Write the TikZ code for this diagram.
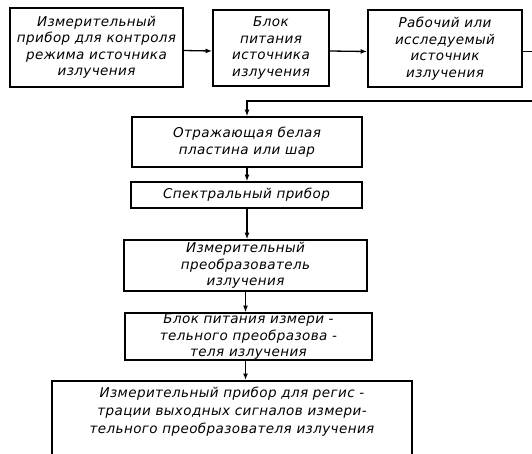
\documentclass[tikz,border=0pt]{standalone}
\usepackage{fontspec}
\setmainfont{DejaVu Sans}
\newfontfamily\lett{DejaVu Sans}[LetterSpace=3]
\usetikzlibrary{arrows.meta}
\tikzset{
  txt/.style={inner sep=0pt, align=center,
    font=\lett\itshape\fontsize{13.5}{16.5}\selectfont},
  blk/.style={txt, draw, line width=1.7pt, rectangle},
  conn/.style={line width=1.3pt},
  arr/.style={conn, -{Latex[length=6.5pt,width=5pt]}}
}
\begin{document}
\begin{tikzpicture}[x=1pt,y=-1pt]
\useasboundingbox (0,0) rectangle (532,453);
\clip (0,0) rectangle (532,453);
\node[blk, minimum width=173pt, minimum height=79pt] (b1) at (96.5,47.5)
  {Измерительный\\прибор для контроля\\режима источника\\излучения};
\node[blk, minimum width=116pt, minimum height=76pt] (b2) at (271,48)
  {Блок\\питания\\источника\\излучения};
\node[blk, minimum width=154pt, minimum height=77pt] (b3) at (445,48.5)
  {Рабочий или\\исследуемый\\источник\\излучения};
\node[blk, minimum width=230pt, minimum height=50pt] (b4) at (247,142)
  {Отражающая белая\\пластина или шар};
\node[blk, minimum width=231pt, minimum height=26pt] (b5) at (246.5,195)
  {Спектральный прибор};
\node[blk, minimum width=243pt, minimum height=51pt] (b6) at (245.5,265.5)
  {Измерительный\\преобразователь\\излучения};
\node[blk, minimum width=247pt, minimum height=47pt] (b7) at (248.5,336.5)
  {Блок питания измери -\\тельного преобразова -\\теля излучения};
\node[blk, minimum width=360pt, minimum height=90pt, anchor=north] (b8) at (232,380) {};
\node[txt, anchor=north, font=\lett\itshape\fontsize{13.5}{18}\selectfont] (b8t) at ([yshift=-7pt]b8.north)
  {Измерительный прибор для регис -\\трации выходных сигналов измери-\\тельного преобразователя излучения};
\coordinate (rt) at (545,101);
\draw[arr] ([yshift=-3pt]b1.east) -- ([yshift=-3pt]b2.west);
\draw[arr] ([yshift=-3pt]b2.east) -- ([yshift=-3pt]b3.west);
\draw[conn] ([yshift=-3pt]b3.east) -| (rt);
\draw[arr] (rt) -| (b4.north);
\draw[arr] (b4.south) -- (b4.south |- b5.north);
\draw[arr] (b5.south -| b4.south) -- (b4.south |- b6.north);
\draw[arr] (b6.south) -- (b6.south |- b7.north);
\draw[arr] (b7.south -| b6.south) -- (b6.south |- b8.north);
\end{tikzpicture}
\end{document}
